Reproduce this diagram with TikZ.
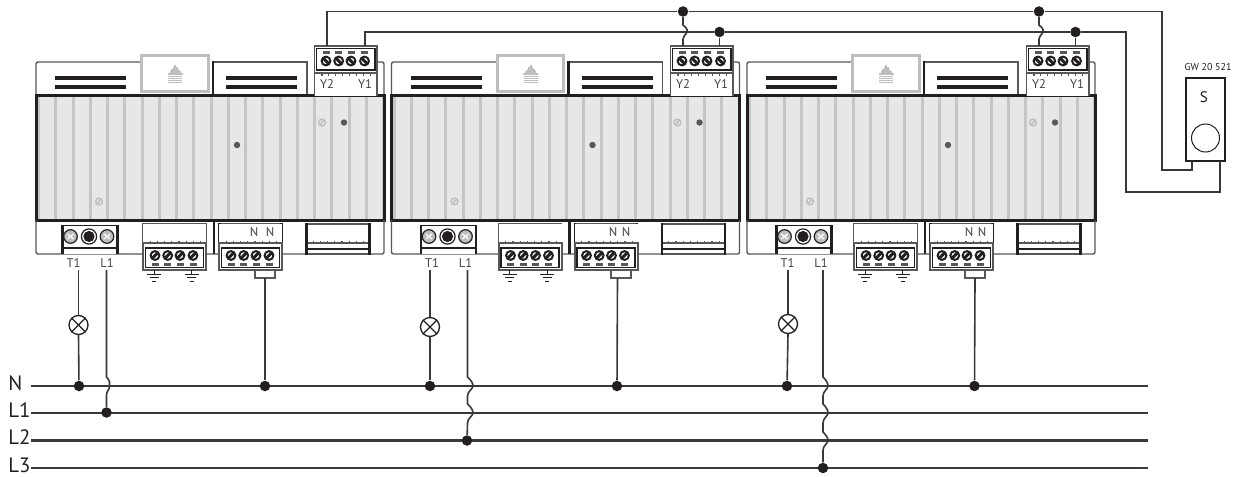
\documentclass[tikz,border=0pt]{standalone}
\usepackage{fontspec}
\setmainfont{PT Sans}
\definecolor{ink}{HTML}{231F20}
\definecolor{wirec}{HTML}{3A3839}
\definecolor{panelgrey}{HTML}{E6E7E8}
\definecolor{ribgrey}{HTML}{C4C5C6}
\definecolor{lightgrey}{HTML}{BDBEC0}
\definecolor{midgrey}{HTML}{58585A}
\tikzset{
  px/.style={line width=#1*0.5pt},
  wire/.style={draw=wirec,px=1.6},
  busline/.style={draw=wirec,px=2.2},
  outline/.style={draw=midgrey,px=1.4},
  heavy/.style={draw=ink,px=2.6},
  junct/.style={circle,fill=ink,draw=none,minimum size=10.5*0.5pt,inner sep=0pt},
  lampc/.style={circle,draw=ink,fill=white,px=1.3,minimum size=19*0.5pt,inner sep=0pt},
  tiny/.style={font=\fontsize{6.3pt}{6.5pt}\selectfont,text=ink!85,inner sep=0pt},
  buslabel/.style={font=\fontsize{10.4pt}{10.4pt}\selectfont,text=ink,inner sep=0pt,anchor=west},
}
\newcommand{\myscrew}[3]{% x y slash dir
  \fill[white] (#1,#2) circle[radius=5];
  \draw[draw=ink,px=2] (#1,#2) circle[radius=4.4];
  \draw[draw=ink,px=3] (#1-#3*3,#2-3) -- (#1+#3*3,#2+3);
}
\newcommand{\myticks}[3]{% x0 y count
  \foreach \i in {1,...,#3}{\draw[draw=midgrey,px=1.2] (#1+\i*7.2,#2) -- (#1+\i*7.2,#2-2.5);}
}
\newcommand{\lowerblock}[1]{% x0 local at 0, upper tick area and screw part
  \fill[white] (#1,224) rectangle (#1+63,270);
  \myticks{#1}{243}{8}
  \draw[draw=midgrey,px=2] (#1,243) rectangle (#1+63,270);
  \draw[draw=ink,px=1.5] (#1+2.5,248) rectangle (#1+60.5,267.5);
  \foreach \d in {12,24.7,37,50}{
    \myscrew{#1+\d}{255.5}{-1}
    \fill[midgrey] (#1+\d-3.5,262.5) rectangle (#1+\d+3.5,265.5);
  }
}
\newcommand{\mymodule}[4]{% suffix, body dx, terminal dx, T-block dx
\begin{scope}[shift={(#2,0)}]
  % upper panel
  \draw[outline] (36,96) -- (36,64) to[out=90,in=180] (38,62) -- (142,62);
  \draw[outline] (213,62) -- (307,62) -- (307,96);
  \draw[heavy] (213,61) -- (213,96);
  \draw[outline] (370,62) -- (382,62) to[out=0,in=90] (384,64) -- (384,96);
  \draw[draw=lightgrey,fill=white,px=3] (141.5,55.5) rectangle (208,91.5);
  \foreach \yy/\ww in {66/2,68/5,70/8,72/11,74/15,76.5/14,78.5/14,80.5/14,82.5/14}{
    \draw[draw=lightgrey,px=1.1] (175-\ww/2,\yy) -- (175+\ww/2,\yy);}
  \foreach \xx in {55,226}{
    \fill[ink] (\xx,76) rectangle (\xx+71,80.5);
    \fill[ink] (\xx,85) rectangle (\xx+71,89.5);
  }
  % body
  \fill[panelgrey] (36,96) rectangle (384,220);
  \foreach \r in {0,...,20}{\draw[draw=ribgrey,px=3] (38.5+\r*17.25,97) -- (38.5+\r*17.25,219);}
  \draw[draw=ink,px=3] (36,96) rectangle (384,220);
  \fill[midgrey] (344,122.5) circle[radius=3.2];
  \fill[midgrey] (237,145) circle[radius=3.2];
  \draw[draw=lightgrey,px=1.4] (322,122.5) circle[radius=3.4] (320,125) -- (324,120);
  \draw[draw=lightgrey,px=1.4] (99,201.5) circle[radius=3.4] (97,204) -- (101,199);
  % lower panel
  \draw[outline] (36,220) -- (36,252) to[out=-90,in=180] (38,254) -- (382,254) to[out=0,in=-90] (384,252) -- (384,220);
  \draw[heavy] (214,220) -- (214,254);
  % earth block
  \fill[white] (143,224) rectangle (206,243);
  \draw[draw=midgrey,px=1.2] (143,243) -- (143,224) -- (206,224) -- (206,243);
  \lowerblock{143}
  \foreach \g in {154,191.5}{
    \draw[draw=ink,px=1] (\g,270) -- (\g,274);
    \draw[draw=ink,px=1] (\g-7,274) -- (\g+7,274);
    \draw[draw=ink,px=1] (\g-4.5,277.5) -- (\g+4.5,277.5);
    \draw[draw=ink,px=1] (\g-2,281) -- (\g+2,281);
  }
  % neutral block
  \fill[white] (219,224) rectangle (282,243);
  \draw[draw=midgrey,px=1.2] (219,224) -- (282,224);
  \draw[heavy] (219.5,223) -- (219.5,243) (281.5,223) -- (281.5,243);
  \lowerblock{219}
  % right block
  \fill[white] (306,224) rectangle (370,254);
  \draw[draw=midgrey,px=1.2] (306,224) -- (370,224) (306,254) -- (370,254);
  \myticks{306}{243}{8}
  \draw[draw=midgrey,px=1.2] (306,243) -- (370,243);
  \draw[draw=ink,px=2] (306,248.5) -- (370,248.5);
  \draw[heavy] (306.5,223) -- (306.5,255) (369.5,223) -- (369.5,255);
\end{scope}
% switch output terminal block
\begin{scope}[shift={(#3,0)}]
  \fill[white] (314.5,46) rectangle (377,96);
  \draw[draw=midgrey,px=1.4] (314.5,96) -- (314.5,46) -- (377,46) -- (377,96);
  \draw[draw=midgrey,px=1.4] (314.5,73) -- (377,73);
  \foreach \i in {1,...,8}{\draw[draw=midgrey,px=1.2] (315+\i*6.9,73) -- (315+\i*6.9,76);}
  \draw[draw=ink,px=1.5] (316.5,48.5) rectangle (375,70);
  \foreach \d in {12,24.7,37,50.5}{
    \fill[midgrey] (314+\d-3.5,51) rectangle (314+\d+3.5,54);
    \myscrew{314+\d}{61}{1}
  }
  \node[tiny] (Ytwo#1) at (327,84) {Y2};
  \node[tiny] (Yone#1) at (365,84) {Y1};
\end{scope}
% lamp driver block
\begin{scope}[shift={(#4,0)}]
  \fill[white] (62,225.5) rectangle (118,254);
  \draw[draw=ink,px=1.2] (62,225.5) -- (118,225.5);
  \draw[heavy] (62.5,225) -- (62.5,254) (117.5,225) -- (117.5,254);
  \draw[draw=ink,px=2.2] (62,248) -- (118,248);
  \foreach \xx in {70.5,107}{
    \fill[lightgrey] (\xx,236.5) circle[radius=6.8];
    \draw[draw=ink,px=1.2] (\xx,236.5) circle[radius=6.8];
    \draw[draw=white,px=1.2] (\xx-3,234) -- (\xx+3,239) (\xx-3,239) -- (\xx+3,234);
  }
  \draw[draw=ink,px=1.2] (89,236.5) circle[radius=7.6];
  \fill[ink] (89,236.5) circle[radius=5.6];
  \node[tiny] (Tone#1) at (73.5,263) {T1};
  \node[tiny] (Lone#1) at (107,263) {L1};
\end{scope}
}
\begin{document}
\begin{tikzpicture}[x=0.5pt,y=-0.5pt]
\useasboundingbox[fill=white] (0,0) rectangle (1235,476);

\mymodule{a}{0}{0}{0}
\mymodule{b}{355.5}{356}{358.5}
\mymodule{c}{711}{712}{714}

% N letters
\node[tiny] (Naa) at (254,232) {N};
\node[tiny] (Nab) at (270,232) {N};
\node[tiny] (Nba) at (613,232) {N};
\node[tiny] (Nbb) at (626,232) {N};
\node[tiny] (Nca) at (969,232) {N};
\node[tiny] (Ncb) at (982,232) {N};

% sensor
\node[draw=ink,fill=white,px=2.6,minimum width=19.5pt,minimum height=41.5pt,inner sep=0pt] (sensor) at (1205.5,119.5) {};
\node[font=\fontsize{7.6pt}{7.6pt}\selectfont,text=ink,inner sep=0pt] (sensorS) at (1204,97) {S};
\node[circle,draw=ink,px=1,fill=white,minimum size=28*0.5pt,inner sep=0pt] (sensorC) at (1205.5,138) {};
\node[font=\fontsize{5pt}{5pt}\selectfont,text=ink,inner sep=0pt] (sensorT) at (1208,67) {GW 20 521};

% bus
\foreach \n/\yy/\lab in {N/386/N,Lone/413/L1,Ltwo/440.5/L2,Lthree/468/L3}{
  \node[buslabel] (lab\n) at (8,\yy-3) {\lab};
  \coordinate (start\n) at (31,\yy);
  \coordinate (end\n) at (1148,\yy);
  \draw[busline] (start\n) -- (end\n);
}

% top wiring
\coordinate (YtwoTa) at (327,46);
\coordinate (YoneTa) at (365,46);
\coordinate (YtwoTb) at (683,46);
\coordinate (YoneTb) at (719.5,46);
\coordinate (YtwoTc) at (1039,46);
\coordinate (YoneTc) at (1075.5,46);
\node[junct] (top1b) at (683,11.5) {};
\node[junct] (top1c) at (1039,11.5) {};
\node[junct] (top2b) at (719.5,32) {};
\node[junct] (top2c) at (1075.5,32) {};
\coordinate (sw1) at (1192,161);
\coordinate (sw2) at (1220,161);
\draw[wire] (YtwoTa) |- (top1b) -- (top1c) -- (1162,11.5) -- (1162,170) -- (1192,170) -- (sw1);
\draw[wire] (YoneTa) |- (top2b) -- (top2c) -- (1126,32) -- (1126,192) -- (1220,192) -- (sw2);
\draw[wire] (top1b) -- (683,25) .. controls (688,29) and (688,31) .. (686.5,33) .. controls (685,35) and (683,37) .. (683,39) -- (YtwoTb);
\draw[wire] (top1c) -- (1039,25) .. controls (1044,29) and (1044,31) .. (1042.5,33) .. controls (1041,35) and (1039,37) .. (1039,39) -- (YtwoTc);
\draw[wire] (top2b) -- (YoneTb);
\draw[wire] (top2c) -- (YoneTc);

% module a field wiring
\node[lampc] (lampa) at (78.5,325) {};
\node[junct] (jNa) at (79,386) {};
\node[junct] (jLa) at (106.5,412.5) {};
\node[junct] (jMa) at (265,386) {};
\coordinate (Tsa) at (78.5,270);
\coordinate (Lsa) at (106.5,270);
\draw[wire] (Tsa) -- (lampa.north);
\draw[wire] (lampa.south) -- (jNa);
\draw[wire] (Lsa) -- (106.5,377) .. controls (110,381) and (110,383) .. (109.5,386) .. controls (110,389) and (106.5,391) .. (106.5,395) -- (jLa);

% module b
\node[lampc] (lampb) at (430,327) {};
\node[junct] (jNb) at (430,386) {};
\node[junct] (jLb) at (467,440.5) {};
\node[junct] (jMb) at (617,386) {};
\coordinate (Tsb) at (430,270);
\coordinate (Lsb) at (467.5,270);
\draw[wire] (Tsb) -- (lampb.north);
\draw[wire] (lampb.south) -- (jNb);
\draw[wire] (Lsb) -- (467.5,377) .. controls (472,381) and (473,384) .. (473,386) .. controls (473,389) and (467.5,391) .. (467.5,396) -- (467.5,404) .. controls (472,408) and (473,411) .. (473,413) .. controls (473,416) and (467.5,418) .. (467.5,423) -- (jLb);

% module c
\node[lampc] (lampc) at (788,324) {};
\node[junct] (jNc) at (787,386) {};
\node[junct] (jLc) at (823,468) {};
\node[junct] (jMc) at (974.5,386) {};
\coordinate (Tsc) at (788,270);
\coordinate (Lsc) at (823,270);
\draw[wire] (Tsc) -- (lampc.north);
\draw[wire] (lampc.south) -- (jNc);
\draw[wire] (Lsc) -- (823,377) .. controls (826,380) and (828,383) .. (828,386) .. controls (828,389) and (823,391) .. (823,396) -- (823,404) .. controls (826,407) and (828,410) .. (828,413) .. controls (828,416) and (823,418) .. (823,423) -- (823,432) .. controls (826,435) and (828,438) .. (828,440.5) .. controls (828,443) and (823,446) .. (823,450) -- (jLc);

% lamp crosses
\foreach \l in {lampa,lampb,lampc}{
  \draw[draw=ink,px=1.1] (\l.45) -- (\l.225) (\l.135) -- (\l.315);
}

% neutral brackets
\foreach \m/\xl/\xr/\xw in {a/255/275/265,b/611/631/617.5,c/965/985/975}{
  \draw[draw=midgrey,px=1.4] (\xl,270) -- (\xl,278) -- (\xr,278) -- (\xr,270);
  \coordinate (br\m) at (\xw,278);
  \draw[wire] (br\m) -- (jM\m);
}
\end{tikzpicture}
\end{document}
